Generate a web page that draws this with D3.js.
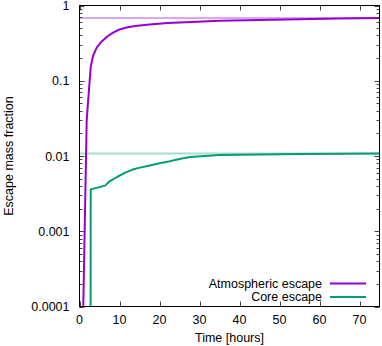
<!DOCTYPE html>
<html><head><meta charset="utf-8">
<script src="https://cdn.jsdelivr.net/npm/d3@7"></script>
<style>body{margin:0;background:#fff}svg{display:block}text{font-family:"Liberation Sans",Arial,sans-serif;fill:#000}</style>
</head><body><svg id="c" width="382" height="346"></svg>
<script>
const atmTime = [0.6, 1.8, 2.8, 3.4, 4.3, 5.5, 7, 8.5, 10, 12, 14.5, 17.5, 22, 28, 35, 45, 55, 65, 75];
const atmFrac = [1e-5, 0.03, 0.153, 0.215, 0.275, 0.33, 0.39, 0.44, 0.48, 0.515, 0.54, 0.56, 0.585, 0.605, 0.625, 0.643, 0.658, 0.671, 0.684];
const coreTime = [2.75, 2.8, 6.4, 7.6, 9.5, 11.4, 13.3, 15.1, 17.6, 20, 22.6, 25, 27.6, 35, 45, 55, 65, 75];
const coreFrac = [1e-6, 0.0036, 0.00404, 0.00465, 0.0053, 0.006, 0.0066, 0.00701, 0.0075, 0.008, 0.0085, 0.0091, 0.0097, 0.0103, 0.0105, 0.0106, 0.0107, 0.0108];
const atmFinal = 0.684;
const coreFinal = 0.0108;
const xTicks = [0, 10, 20, 30, 40, 50, 60, 70];
const yTicks = [0.0001, 0.001, 0.01, 0.1, 1];
const yTickLabels = ["0.0001", "0.001", "0.01", "0.1", "1"];
const seriesNames = ["Atmospheric escape", "Core escape"];
const colors = ["#9400d3", "#009e73"];

const svg = d3.select("#c");
const L = 79.5, R = 379.5, T = 5.5, B = 306.5;
const x = d3.scaleLinear().domain([0, 75]).range([L, R]);
const y = d3.scaleLog().domain([1e-4, 1]).range([B, T]);

svg.append("clipPath").attr("id", "clip").append("rect").attr("x", L).attr("y", T).attr("width", R - L).attr("height", B - T);

// reference lines
[[atmFinal, colors[0]], [coreFinal, colors[1]]].forEach(([v, c]) => {
  svg.append("line").attr("x1", L).attr("x2", R).attr("y1", y(v)).attr("y2", y(v))
    .attr("stroke", c).attr("stroke-opacity", 0.35).attr("stroke-width", 2);
});

const line = d3.line().x(d => x(d[0])).y(d => y(d[1]));
const g = svg.append("g").attr("clip-path", "url(#clip)");
g.append("path").datum(atmTime.map((t, i) => [t, atmFrac[i]])).attr("d", line)
  .attr("fill", "none").attr("stroke", colors[0]).attr("stroke-width", 2).attr("stroke-linejoin", "round");
g.append("path").datum(coreTime.map((t, i) => [t, coreFrac[i]])).attr("d", line)
  .attr("fill", "none").attr("stroke", colors[1]).attr("stroke-width", 2).attr("stroke-linejoin", "round");

// ticks
const tk = svg.append("g").attr("stroke", "#444").attr("stroke-width", 1);
xTicks.forEach(t => {
  const px = Math.round(x(t)) + 0.5;
  tk.append("line").attr("x1", px).attr("x2", px).attr("y1", B).attr("y2", B - 5);
  tk.append("line").attr("x1", px).attr("x2", px).attr("y1", T).attr("y2", T + 5);
});
for (let e = -4; e <= 0; e++) {
  for (let m = 1; m <= 9; m++) {
    const v = m * Math.pow(10, e);
    if (v > 1) break;
    const py = Math.round(y(v)) + 0.5;
    const len = m === 1 ? 5 : 3;
    tk.append("line").attr("x1", L).attr("x2", L + len).attr("y1", py).attr("y2", py);
    tk.append("line").attr("x1", R).attr("x2", R - len).attr("y1", py).attr("y2", py);
  }
}
svg.append("rect").attr("x", L).attr("y", T).attr("width", R - L).attr("height", B - T)
  .attr("fill", "none").attr("stroke", "#000").attr("stroke-width", 1);

// tick labels
xTicks.forEach(t => {
  svg.append("text").attr("x", x(t)).attr("y", 324).attr("text-anchor", "middle")
    .attr("font-size", 12.5).text(t);
});
yTicks.forEach((t, i) => {
  svg.append("text").attr("x", 69.5).attr("y", y(t) + 4.5).attr("text-anchor", "end")
    .attr("font-size", 12.5).text(yTickLabels[i]);
});
svg.append("text").attr("x", (L + R) / 2).attr("y", 342).attr("text-anchor", "middle")
  .attr("font-size", 12.5).text("Time [hours]");
svg.append("text").attr("transform", "translate(13,156) rotate(-90)").attr("text-anchor", "middle")
  .attr("font-size", 12.5).text("Escape mass fraction");

// legend
seriesNames.forEach((n, i) => {
  const ly = 283.5 + i * 13.4;
  svg.append("text").attr("x", 322).attr("y", ly + 4.5).attr("text-anchor", "end")
    .attr("font-size", 12.5).text(n);
  svg.append("line").attr("x1", 330).attr("x2", 366).attr("y1", ly).attr("y2", ly)
    .attr("stroke", colors[i]).attr("stroke-width", 2);
});
</script></body></html>
